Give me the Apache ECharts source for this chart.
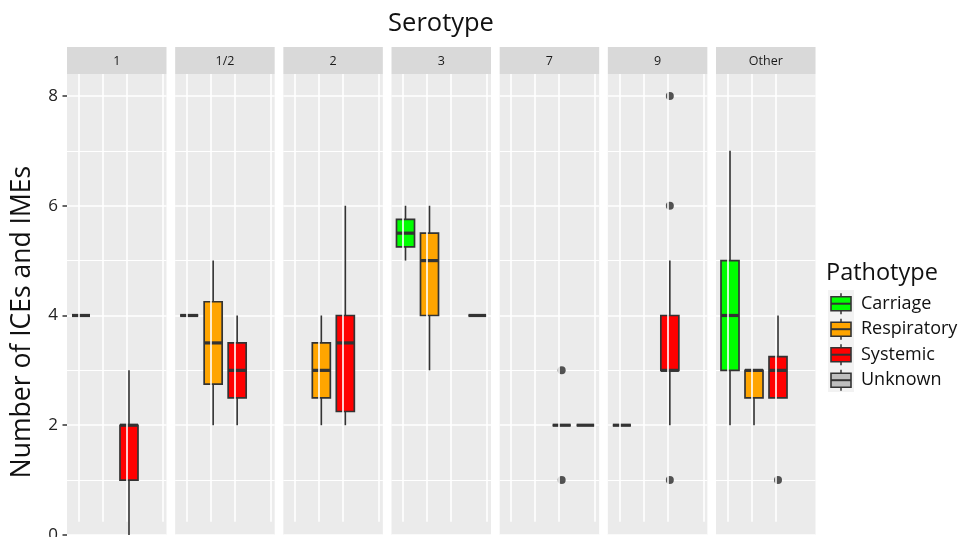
<!DOCTYPE html>
<html><head><meta charset="utf-8">
<script src="https://cdn.jsdelivr.net/npm/echarts@6/dist/echarts.min.js"></script>
<style>html,body{margin:0;padding:0;background:#fff}#c{width:960px;height:537px}</style>
</head><body><div id="c"></div>
<script>
const serotypes = ['1', '1/2', '2', '3', '7', '9', 'Other'];
const pathotypes = ['Carriage', 'Respiratory', 'Systemic', 'Unknown'];
const pathColors = ['#00FF00', '#FFA500', '#FF0000', '#BEBEBE'];
// [serotypeIndex, pathotypeIndex, min, q1, median, q3, max]
const boxStats = [
  [0, 0, 4, 4, 4, 4, 4],
  [0, 2, 0, 1, 2, 2, 3],
  [1, 0, 4, 4, 4, 4, 4],
  [1, 1, 2, 2.75, 3.5, 4.25, 5],
  [1, 2, 2, 2.5, 3, 3.5, 4],
  [2, 1, 2, 2.5, 3, 3.5, 4],
  [2, 2, 2, 2.25, 3.5, 4, 6],
  [3, 0, 5, 5.25, 5.5, 5.75, 6],
  [3, 1, 3, 4, 5, 5.5, 6],
  [3, 3, 4, 4, 4, 4, 4],
  [4, 2, 2, 2, 2, 2, 2],
  [4, 3, 2, 2, 2, 2, 2],
  [5, 0, 2, 2, 2, 2, 2],
  [5, 2, 2, 3, 3, 4, 5],
  [6, 0, 2, 3, 4, 5, 7],
  [6, 1, 2, 2.5, 3, 3, 3],
  [6, 2, 2.5, 2.5, 3, 3.25, 4]
];
// [serotypeIndex, pathotypeIndex, value]
const outliers = [
  [4, 2, 3], [4, 2, 1],
  [5, 2, 8], [5, 2, 6], [5, 2, 1],
  [6, 2, 1]
];
const yTicks = [0, 2, 4, 6, 8];

const FONT = 'Open Sans';
const panelLeft0 = 67, panelStep = 108.17, panelW = 99.5, panelTop = 74, panelH = 461;
const xMin = 0.417, pxPerUnit = 24;
const xMax = xMin + panelW / pxPerUnit;

const grids = [], xAxes = [], yAxes = [], series = [], graphics = [];

function renderBox(params, api) {
  const x = api.value(0);
  const pMin = api.coord([x, api.value(1)]);
  const pQ1 = api.coord([x, api.value(2)]);
  const pMed = api.coord([x, api.value(3)]);
  const pQ3 = api.coord([x, api.value(4)]);
  const pMax = api.coord([x, api.value(5)]);
  const hw = 9;
  const fill = pathColors[api.value(6)];
  const stroke = '#333333';
  return {
    type: 'group',
    children: [
      { type: 'line', shape: { x1: pMax[0], y1: pMax[1], x2: pQ3[0], y2: pQ3[1] }, style: { stroke: stroke, lineWidth: 1.6 } },
      { type: 'line', shape: { x1: pMin[0], y1: pMin[1], x2: pQ1[0], y2: pQ1[1] }, style: { stroke: stroke, lineWidth: 1.6 } },
      { type: 'rect', shape: { x: pQ3[0] - hw, y: pQ3[1], width: 2 * hw, height: pQ1[1] - pQ3[1] }, style: { fill: fill, stroke: stroke, lineWidth: 1.7 } },
      { type: 'line', shape: { x1: pMed[0] - hw, y1: pMed[1], x2: pMed[0] + hw, y2: pMed[1] }, style: { stroke: stroke, lineWidth: 3.2 } }
    ]
  };
}

serotypes.forEach(function (s, i) {
  const left = panelLeft0 + i * panelStep;
  grids.push({ left: left, top: panelTop, width: panelW, height: panelH, show: true, backgroundColor: '#EBEBEB', borderWidth: 0, containLabel: false, outerBoundsMode: 'none' });
  xAxes.push({
    gridIndex: i, type: 'value', min: xMin, max: xMax,
    axisLine: { show: false }, axisTick: { show: false }, axisLabel: { show: false }, splitLine: { show: false }
  });
  yAxes.push({
    gridIndex: i, type: 'value', min: 0, max: 8.4, interval: 2,
    axisLine: { show: false },
    axisTick: { show: i === 0, length: 4.5, customValues: yTicks, lineStyle: { color: '#333333', width: 1.5 } },
    axisLabel: { show: i === 0, customValues: yTicks, margin: 9, fontFamily: FONT, fontSize: 17, color: '#222222' },
    splitLine: { show: true, lineStyle: { color: '#FFFFFF', width: 1.6 } },
    minorTick: { show: false, splitNumber: 2 },
    minorSplitLine: { show: true, lineStyle: { color: '#FFFFFF', width: 1.1 } }
  });
  const vLines = (s === 'Other' ? [0.896, 1.896, 2.896] : [0.896, 1.896, 2.896, 4.396]);
  series.push({
    type: 'line', xAxisIndex: i, yAxisIndex: i, data: [], silent: true, z: 1,
    markLine: {
      silent: true, symbol: ['none', 'none'], label: { show: false },
      lineStyle: { color: '#FFFFFF', width: 1.6, type: 'solid' },
      emphasis: { disabled: true },
      data: vLines.map(function (v) { return [{ coord: [v, 0.24] }, { coord: [v, 8.4] }]; })
    }
  });
  series.push({
    type: 'custom', name: s, xAxisIndex: i, yAxisIndex: i, z: 3,
    renderItem: renderBox,
    encode: { x: 0, y: [1, 2, 3, 4, 5] },
    data: boxStats.filter(function (b) { return b[0] === i; }).map(function (b) {
      return [b[1] + 1, b[2], b[3], b[4], b[5], b[6], b[1]];
    })
  });
  series.push({
    type: 'scatter', xAxisIndex: i, yAxisIndex: i, z: 4, symbol: 'circle', symbolSize: 8,
    itemStyle: { color: '#2B2B2B' },
    data: outliers.filter(function (o) { return o[0] === i; }).map(function (o) { return [o[1] + 1, o[2]]; })
  });
  graphics.push({ type: 'rect', shape: { x: left, y: 47, width: panelW, height: 27 }, style: { fill: '#D9D9D9' } });
  graphics.push({ type: 'text', x: left + panelW / 2, y: 61, style: { text: s, fontFamily: FONT, fontSize: 12.5, fill: '#1A1A1A', align: 'center', verticalAlign: 'middle' } });
});

// Title and y-axis name
graphics.push({ type: 'text', x: 441, y: 24, style: { text: 'Serotype', fontFamily: FONT, fontSize: 25.5, fill: '#111111', align: 'center', verticalAlign: 'middle' } });
graphics.push({ type: 'text', x: 22, y: 322, rotation: Math.PI / 2, style: { text: 'Number of ICEs and IMEs', fontFamily: FONT, fontSize: 26.5, fill: '#111111', align: 'center', verticalAlign: 'middle' } });

// Legend
graphics.push({ type: 'text', x: 826, y: 273, style: { text: 'Pathotype', fontFamily: FONT, fontSize: 23.5, fill: '#111111', align: 'left', verticalAlign: 'middle' } });
graphics.push({ type: 'rect', shape: { x: 828, y: 290, width: 26, height: 102 }, style: { fill: '#F2F2F2' } });
pathotypes.forEach(function (p, k) {
  const cy = 303.7 + k * 25.5;
  const cx = 841;
  graphics.push({ type: 'line', shape: { x1: cx, y1: cy - 10.5, x2: cx, y2: cy - 7 }, style: { stroke: '#333333', lineWidth: 1.5 } });
  graphics.push({ type: 'line', shape: { x1: cx, y1: cy + 7, x2: cx, y2: cy + 10.5 }, style: { stroke: '#333333', lineWidth: 1.5 } });
  graphics.push({ type: 'rect', shape: { x: 831, y: cy - 7, width: 20, height: 14 }, style: { fill: pathColors[k], stroke: '#333333', lineWidth: 1.6 } });
  graphics.push({ type: 'line', shape: { x1: 831, y1: cy, x2: 851, y2: cy }, style: { stroke: '#333333', lineWidth: 2 } });
  graphics.push({ type: 'text', x: 861, y: cy, style: { text: p, fontFamily: FONT, fontSize: 18, fill: '#111111', align: 'left', verticalAlign: 'middle' } });
});

const chart = echarts.init(document.getElementById('c'), null, { renderer: 'canvas' });
chart.setOption({
  animation: false,
  backgroundColor: '#FFFFFF',
  grid: grids,
  xAxis: xAxes,
  yAxis: yAxes,
  series: series,
  graphic: graphics
});
</script>
</body></html>
